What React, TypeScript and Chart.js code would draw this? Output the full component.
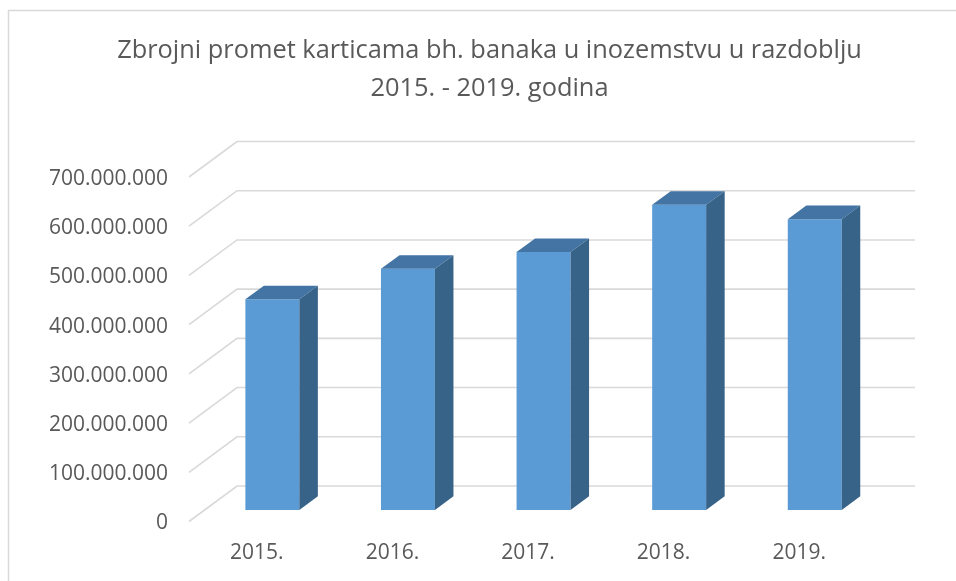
import React, { useEffect, useRef } from "react";
import { Chart, registerables } from "chart.js";

Chart.register(...registerables);

// ---- data ----
const TITLE_LINES = [
  "Zbrojni promet karticama bh. banaka u inozemstvu u razdoblju",
  "2015. - 2019. godina",
];
const CATEGORIES = ["2015.", "2016.", "2017.", "2018.", "2019."];
const VALUES = [428000000, 490000000, 524000000, 620000000, 591000000];
const Y_MIN = 0;
const Y_MAX = 700000000;
const Y_STEP = 100000000;

// ---- style ----
const FONT = '"Open Sans", "Noto Sans", sans-serif';
const TEXT_COLOR = "#595959";
const GRID_COLOR = "#d9d9d9";
const FRONT_COLOR = "#5b9bd5";
const TOP_COLOR = "#4374a3";
const SIDE_COLOR = "#386389";
const DEPTH_X = 48;
const DEPTH_Y = -35.5;
const BAR_FRONT_FRAC = 0.324;
const BAR_BACK_FRAC = 0.71;

const fmt = (v: number) =>
  String(Math.round(v)).replace(/\B(?=(\d{3})+(?!\d))/g, ".");

const framePlugin = {
  id: "frame",
  beforeDraw(chart: any) {
    const ctx = chart.ctx;
    ctx.save();
    ctx.fillStyle = "#ffffff";
    ctx.fillRect(0, 0, chart.width, chart.height);
    ctx.strokeStyle = GRID_COLOR;
    ctx.lineWidth = 1.5;
    ctx.beginPath();
    ctx.moveTo(8.5, chart.height);
    ctx.lineTo(8.5, 10.5);
    ctx.lineTo(chart.width, 10.5);
    ctx.stroke();
    ctx.restore();
  },
};

const titlePlugin = {
  id: "title3d",
  afterDraw(chart: any) {
    const ctx = chart.ctx;
    ctx.save();
    ctx.font = `400 100px ${FONT}`;
    const w = ctx.measureText(TITLE_LINES[0]).width;
    const size = (100 * 745) / w;
    ctx.font = `400 ${size}px ${FONT}`;
    ctx.fillStyle = TEXT_COLOR;
    ctx.textAlign = "center";
    ctx.textBaseline = "middle";
    TITLE_LINES.forEach((line, i) => {
      ctx.fillText(line, 489.5, 51 + i * 38);
    });
    ctx.restore();
  },
};

const wallPlugin = {
  id: "wall",
  beforeDatasetsDraw(chart: any) {
    const ctx = chart.ctx;
    const { left, right } = chart.chartArea;
    const ys = chart.scales.y;
    ctx.save();
    ctx.strokeStyle = GRID_COLOR;
    ctx.lineWidth = 1.6;
    ys.ticks.forEach((t: any) => {
      const y = ys.getPixelForValue(t.value);
      ctx.beginPath();
      ctx.moveTo(left, y);
      ctx.lineTo(left + DEPTH_X, y + DEPTH_Y);
      ctx.lineTo(right + DEPTH_X, y + DEPTH_Y);
      ctx.stroke();
    });
    ctx.restore();
  },
};

const bar3dPlugin = {
  id: "bar3d",
  beforeDatasetsDraw(chart: any) {
    const ctx = chart.ctx;
    ctx.save();
    ctx.translate(DEPTH_X * BAR_FRONT_FRAC, DEPTH_Y * BAR_FRONT_FRAC);
  },
  afterDatasetsDraw(chart: any) {
    const ctx = chart.ctx;
    const bx = DEPTH_X * (BAR_BACK_FRAC - BAR_FRONT_FRAC);
    const by = DEPTH_Y * (BAR_BACK_FRAC - BAR_FRONT_FRAC);
    const meta = chart.getDatasetMeta(0);
    meta.data.forEach((bar: any) => {
      const { x, y, base, width } = bar.getProps(["x", "y", "base", "width"], true);
      const l = x - width / 2;
      const r = x + width / 2;
      // top face
      ctx.fillStyle = TOP_COLOR;
      ctx.beginPath();
      ctx.moveTo(l, y);
      ctx.lineTo(r, y);
      ctx.lineTo(r + bx, y + by);
      ctx.lineTo(l + bx, y + by);
      ctx.closePath();
      ctx.fill();
      // side face
      ctx.fillStyle = SIDE_COLOR;
      ctx.beginPath();
      ctx.moveTo(r, y);
      ctx.lineTo(r + bx, y + by);
      ctx.lineTo(r + bx, base + by);
      ctx.lineTo(r, base);
      ctx.closePath();
      ctx.fill();
    });
    ctx.restore();
  },
};

export default function App() {
  const ref = useRef<HTMLCanvasElement>(null);
  useEffect(() => {
    const chart = new Chart(ref.current as HTMLCanvasElement, {
      type: "bar",
      data: {
        labels: CATEGORIES,
        datasets: [
          {
            data: VALUES,
            backgroundColor: FRONT_COLOR,
            borderWidth: 0,
            barPercentage: 0.398,
            categoryPercentage: 1,
            clip: false as any,
          },
        ],
      },
      options: {
        animation: false,
        responsive: false,
        devicePixelRatio: 1,
        layout: { padding: { top: 177, right: 89, left: 0, bottom: 0 } },
        plugins: {
          legend: { display: false },
          tooltip: { enabled: false },
          title: { display: false },
        },
        scales: {
          x: {
            grid: { display: false, drawTicks: false },
            border: { display: false },
            ticks: {
              padding: 19,
              color: TEXT_COLOR,
              font: { family: FONT, size: 21 },
              maxRotation: 0,
            },
            afterFit: (s: any) => {
              s.height = 59.5;
            },
          },
          y: {
            min: Y_MIN,
            max: Y_MAX,
            grid: { display: false, drawTicks: false },
            border: { display: false },
            ticks: {
              stepSize: Y_STEP,
              padding: 21,
              labelOffset: 2,
              color: TEXT_COLOR,
              font: { family: FONT, size: 21 },
              callback: (v: any) => fmt(Number(v)),
            },
            afterFit: (s: any) => {
              s.width = 189;
            },
          },
        },
      },
      plugins: [framePlugin, wallPlugin, bar3dPlugin, titlePlugin],
    });
    return () => chart.destroy();
  }, []);
  return (
    <div
      style={{
        position: "fixed",
        left: 0,
        top: 0,
        width: 956,
        height: 581,
        background: "#fff",
      }}
    >
      <canvas ref={ref} width={956} height={581} style={{ display: "block" }} />
    </div>
  );
}
